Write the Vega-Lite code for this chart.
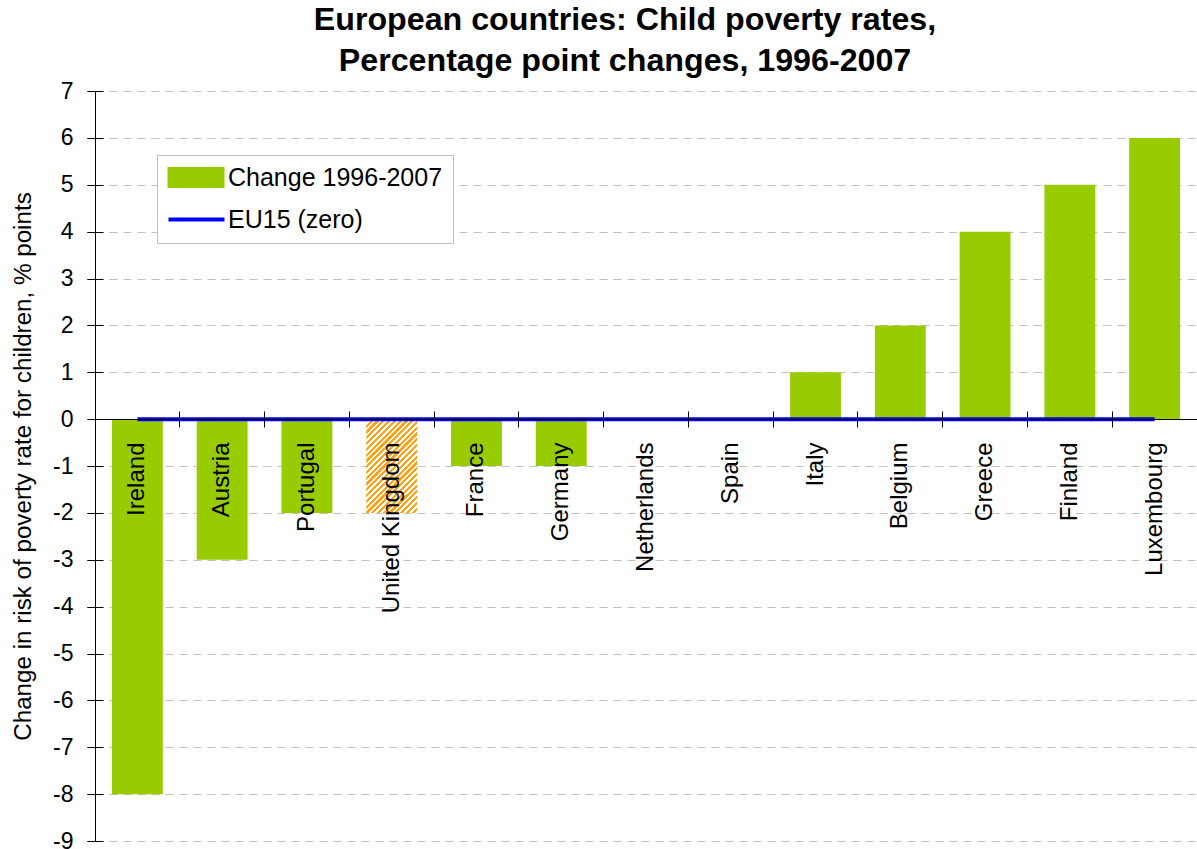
{
  "$schema": "https://vega.github.io/schema/vega-lite/v6.json",
  "autosize": {"type": "none"},
  "padding": {"left": 95, "top": 91, "right": 0, "bottom": 8},
  "width": 1102,
  "height": 750,
  "background": "white",
  "config": {
    "view": {"stroke": null},
    "font": "Liberation Sans",
    "axis": {"labelFont": "Liberation Sans", "titleFont": "Liberation Sans", "labelColor": "black", "titleColor": "black"}
  },
  "title": {
    "text": ["European countries: Child poverty rates,", "Percentage point changes, 1996-2007"],
    "fontSize": 32.2,
    "fontWeight": "bold",
    "font": "Liberation Sans",
    "color": "black",
    "anchor": "middle",
    "dx": -21,
    "lineHeight": 41,
    "offset": 2
  },
  "data": {
    "values": [
      {"country": "Ireland", "change": -8},
      {"country": "Austria", "change": -3},
      {"country": "Portugal", "change": -2},
      {"country": "United Kingdom", "change": -2},
      {"country": "France", "change": -1},
      {"country": "Germany", "change": -1},
      {"country": "Netherlands", "change": 0},
      {"country": "Spain", "change": 0},
      {"country": "Italy", "change": 1},
      {"country": "Belgium", "change": 2},
      {"country": "Greece", "change": 4},
      {"country": "Finland", "change": 5},
      {"country": "Luxembourg", "change": 6}
    ]
  },
  "resolve": {"axis": {"x": "independent", "y": "independent"}},
  "layer": [
    {
      "transform": [{"filter": "datum.country !== 'United Kingdom'"}],
      "mark": {"type": "bar", "width": {"band": 0.6}},
      "encoding": {
        "x": {
          "field": "country", "type": "nominal",
          "sort": ["Ireland", "Austria", "Portugal", "United Kingdom", "France", "Germany", "Netherlands", "Spain", "Italy", "Belgium", "Greece", "Finland", "Luxembourg"],
          "scale": {"paddingInner": 0, "paddingOuter": 0},
          "axis": {
            "orient": "bottom", "offset": -422, "title": null,
            "domain": true, "domainColor": "black", "domainWidth": 1,
            "ticks": false, "tickSize": 0,
            "labelAngle": -90, "labelAlign": "right", "labelBaseline": "middle",
            "labelPadding": 23, "labelFontSize": 24, "labelColor": "black",
            "zindex": 1
          }
        },
        "y": {
          "field": "change", "type": "quantitative",
          "scale": {"domain": [-9, 7], "nice": false, "zero": false},
          "axis": {
            "values": [-9, -8, -7, -6, -5, -4, -3, -2, -1, 0, 1, 2, 3, 4, 5, 6, 7],
            "labelExpr": "'' + datum.value",
            "title": "Change in risk of poverty rate for children, % points",
            "titleFontSize": 24.2, "titleFontWeight": "normal", "titlePadding": 17,
            "labelFontSize": 23, "labelPadding": 14,
            "domain": true, "domainColor": "black", "domainWidth": 1,
            "ticks": true, "tickSize": 8, "tickColor": "black",
            "grid": true, "gridColor": "#c0c0c0", "gridDash": [8, 6], "gridWidth": 1,
            "zindex": 0
          }
        },
        "color": {
          "datum": "Change 1996-2007",
          "scale": {"domain": ["Change 1996-2007", "EU15 (zero)"], "range": ["#99cc00", "#0000ff"]},
          "legend": {
            "title": null,
            "orient": "none",
            "legendX": 62,
            "legendY": 64,
            "padding": 10,
            "strokeColor": "#c0c0c0",
            "fillColor": "white",
            "labelFontSize": 25,
            "labelFont": "Liberation Sans",
            "labelColor": "black",
            "labelLimit": 500,
            "labelOffset": 36,
            "symbolSize": 100,
            "rowPadding": 13,
            "encode": {
              "symbols": {
                "update": {
                  "shape": {"signal": "datum.value === 'EU15 (zero)' ? 'M-2.2,0H9' : 'M-2,-1.7H8.6V1.7H-2Z'"},
                  "fill": {"signal": "datum.value === 'EU15 (zero)' ? 'transparent' : '#99cc00'"},
                  "stroke": {"signal": "datum.value === 'EU15 (zero)' ? '#0000ff' : 'transparent'"},
                  "strokeWidth": {"value": 4},
                  "size": {"value": 100},
                  "opacity": {"value": 1}
                }
              }
            }
          }
        }
      }
    },
    {
      "transform": [{"filter": "datum.country === 'United Kingdom'"}],
      "mark": {
        "type": "bar",
        "width": {"band": 0.6},
        "color": {
          "gradient": "linear", "x1": 0, "y1": 0, "x2": 0.646, "y2": 1.191,
          "stops": [
            {"offset": 0, "color": "#ffa31a"}, {"offset": 0.022, "color": "#ffa31a"}, {"offset": 0.022, "color": "#ffffff"}, {"offset": 0.04, "color": "#ffffff"},
            {"offset": 0.04, "color": "#ffa31a"}, {"offset": 0.062, "color": "#ffa31a"}, {"offset": 0.062, "color": "#ffffff"}, {"offset": 0.08, "color": "#ffffff"},
            {"offset": 0.08, "color": "#ffa31a"}, {"offset": 0.102, "color": "#ffa31a"}, {"offset": 0.102, "color": "#ffffff"}, {"offset": 0.12, "color": "#ffffff"},
            {"offset": 0.12, "color": "#ffa31a"}, {"offset": 0.142, "color": "#ffa31a"}, {"offset": 0.142, "color": "#ffffff"}, {"offset": 0.16, "color": "#ffffff"},
            {"offset": 0.16, "color": "#ffa31a"}, {"offset": 0.182, "color": "#ffa31a"}, {"offset": 0.182, "color": "#ffffff"}, {"offset": 0.2, "color": "#ffffff"},
            {"offset": 0.2, "color": "#ffa31a"}, {"offset": 0.222, "color": "#ffa31a"}, {"offset": 0.222, "color": "#ffffff"}, {"offset": 0.24, "color": "#ffffff"},
            {"offset": 0.24, "color": "#ffa31a"}, {"offset": 0.262, "color": "#ffa31a"}, {"offset": 0.262, "color": "#ffffff"}, {"offset": 0.28, "color": "#ffffff"},
            {"offset": 0.28, "color": "#ffa31a"}, {"offset": 0.302, "color": "#ffa31a"}, {"offset": 0.302, "color": "#ffffff"}, {"offset": 0.32, "color": "#ffffff"},
            {"offset": 0.32, "color": "#ffa31a"}, {"offset": 0.342, "color": "#ffa31a"}, {"offset": 0.342, "color": "#ffffff"}, {"offset": 0.36, "color": "#ffffff"},
            {"offset": 0.36, "color": "#ffa31a"}, {"offset": 0.382, "color": "#ffa31a"}, {"offset": 0.382, "color": "#ffffff"}, {"offset": 0.4, "color": "#ffffff"},
            {"offset": 0.4, "color": "#ffa31a"}, {"offset": 0.422, "color": "#ffa31a"}, {"offset": 0.422, "color": "#ffffff"}, {"offset": 0.44, "color": "#ffffff"},
            {"offset": 0.44, "color": "#ffa31a"}, {"offset": 0.462, "color": "#ffa31a"}, {"offset": 0.462, "color": "#ffffff"}, {"offset": 0.48, "color": "#ffffff"},
            {"offset": 0.48, "color": "#ffa31a"}, {"offset": 0.502, "color": "#ffa31a"}, {"offset": 0.502, "color": "#ffffff"}, {"offset": 0.52, "color": "#ffffff"},
            {"offset": 0.52, "color": "#ffa31a"}, {"offset": 0.542, "color": "#ffa31a"}, {"offset": 0.542, "color": "#ffffff"}, {"offset": 0.56, "color": "#ffffff"},
            {"offset": 0.56, "color": "#ffa31a"}, {"offset": 0.582, "color": "#ffa31a"}, {"offset": 0.582, "color": "#ffffff"}, {"offset": 0.6, "color": "#ffffff"},
            {"offset": 0.6, "color": "#ffa31a"}, {"offset": 0.622, "color": "#ffa31a"}, {"offset": 0.622, "color": "#ffffff"}, {"offset": 0.64, "color": "#ffffff"},
            {"offset": 0.64, "color": "#ffa31a"}, {"offset": 0.662, "color": "#ffa31a"}, {"offset": 0.662, "color": "#ffffff"}, {"offset": 0.68, "color": "#ffffff"},
            {"offset": 0.68, "color": "#ffa31a"}, {"offset": 0.702, "color": "#ffa31a"}, {"offset": 0.702, "color": "#ffffff"}, {"offset": 0.72, "color": "#ffffff"},
            {"offset": 0.72, "color": "#ffa31a"}, {"offset": 0.742, "color": "#ffa31a"}, {"offset": 0.742, "color": "#ffffff"}, {"offset": 0.76, "color": "#ffffff"},
            {"offset": 0.76, "color": "#ffa31a"}, {"offset": 0.782, "color": "#ffa31a"}, {"offset": 0.782, "color": "#ffffff"}, {"offset": 0.8, "color": "#ffffff"},
            {"offset": 0.8, "color": "#ffa31a"}, {"offset": 0.822, "color": "#ffa31a"}, {"offset": 0.822, "color": "#ffffff"}, {"offset": 0.84, "color": "#ffffff"},
            {"offset": 0.84, "color": "#ffa31a"}, {"offset": 0.862, "color": "#ffa31a"}, {"offset": 0.862, "color": "#ffffff"}, {"offset": 0.88, "color": "#ffffff"},
            {"offset": 0.88, "color": "#ffa31a"}, {"offset": 0.902, "color": "#ffa31a"}, {"offset": 0.902, "color": "#ffffff"}, {"offset": 0.92, "color": "#ffffff"},
            {"offset": 0.92, "color": "#ffa31a"}, {"offset": 0.942, "color": "#ffa31a"}, {"offset": 0.942, "color": "#ffffff"}, {"offset": 0.96, "color": "#ffffff"},
            {"offset": 0.96, "color": "#ffa31a"}, {"offset": 0.982, "color": "#ffa31a"}, {"offset": 0.982, "color": "#ffffff"}, {"offset": 1, "color": "#ffffff"}
          ]
        }
      },
      "encoding": {
        "x": {
          "field": "country", "type": "nominal",
          "sort": ["Ireland", "Austria", "Portugal", "United Kingdom", "France", "Germany", "Netherlands", "Spain", "Italy", "Belgium", "Greece", "Finland", "Luxembourg"],
          "axis": null
        },
        "y": {"field": "change", "type": "quantitative", "axis": null}
      }
    },
    {
      "mark": {"type": "line", "strokeWidth": 4, "color": "#0000ff"},
      "encoding": {
        "x": {
          "field": "country", "type": "nominal",
          "sort": ["Ireland", "Austria", "Portugal", "United Kingdom", "France", "Germany", "Netherlands", "Spain", "Italy", "Belgium", "Greece", "Finland", "Luxembourg"],
          "axis": {
            "orient": "bottom", "offset": -430, "title": null,
            "domain": false, "labels": false, "grid": false,
            "ticks": true, "tickSize": 16, "tickColor": "black", "tickWidth": 1,
            "bandPosition": 0, "zindex": 1
          }
        },
        "y": {
          "datum": 0, "type": "quantitative",
          "axis": {
            "orient": "left", "offset": -8, "title": null,
            "values": [-9, -8, -7, -6, -5, -4, -3, -2, -1, 0, 1, 2, 3, 4, 5, 6, 7],
            "domain": false, "labels": false, "grid": false,
            "ticks": true, "tickSize": 16, "tickColor": "black", "tickWidth": 1,
            "zindex": 1
          }
        },
        "color": {"datum": "EU15 (zero)"}
      }
    }
  ]
}
